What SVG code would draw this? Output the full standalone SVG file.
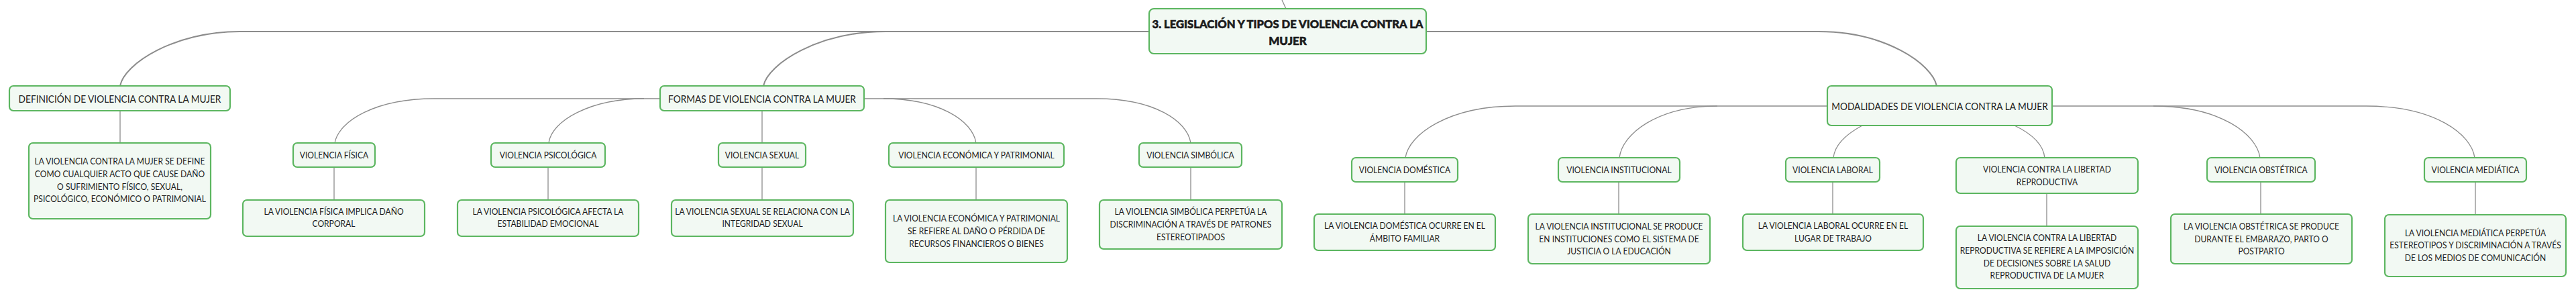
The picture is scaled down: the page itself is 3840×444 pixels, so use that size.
<svg xmlns="http://www.w3.org/2000/svg" width="3840" height="444" viewBox="0 0 3840 444">
<style>
.box{fill:#f2f9f3;stroke:#5cb660;stroke-width:2.2}
.t{font-family:Lato,"Liberation Sans",sans-serif;fill:#1c1c1c;text-anchor:middle;dominant-baseline:central}
.r{font-size:17px;font-weight:900;stroke:#1c1c1c;stroke-width:0.6}
.l1{font-size:15px}
.l2{font-size:13px}
.c{fill:none;stroke:#8c8c8c;stroke-width:1.3}
.cm{fill:none;stroke:#8c8c8c;stroke-width:2}
</style>
<rect width="3840" height="444" fill="#ffffff"/>
<g id="connectors">
<path class="c" d="M1911,0 L1917,13"/>
<path class="cm" d="M1713,47 H357 C260,47 185,95 179,128"/>
<path class="cm" d="M1320,47 C1220,47 1145,95 1138,128"/>
<path class="cm" d="M2126,47 H2711 C2810,47 2880,95 2887,128"/>
<path class="c" d="M984,147 H647 C560,147 505,180 499,213"/>
<path class="c" d="M960,147 C880,147 822,180 818,213"/>
<path class="c" d="M1136,165 V213"/>
<path class="c" d="M1288,147 H1635 C1720,147 1770,180 1775,213"/>
<path class="c" d="M1317,147 C1400,147 1450,180 1455,213"/>
<path class="c" d="M179,165 V213"/>
<path class="c" d="M498,249 V298"/>
<path class="c" d="M817,249 V298"/>
<path class="c" d="M1136,249 V298"/>
<path class="c" d="M1455,249 V298"/>
<path class="c" d="M1775,249 V298"/>
<path class="c" d="M2724,158 H2259 C2160,158 2100,200 2095,235"/>
<path class="c" d="M2560,158 C2470,158 2418,200 2414,235"/>
<path class="c" d="M2776,187 C2752,200 2735,215 2733,235"/>
<path class="c" d="M3003,187 C3030,200 3046,215 3048,235"/>
<path class="c" d="M3059,158 H3527 C3630,158 3684,200 3689,235"/>
<path class="c" d="M3210,158 C3310,158 3364,200 3369,235"/>
<path class="c" d="M2094,271 V319"/>
<path class="c" d="M2413,271 V319"/>
<path class="c" d="M2732,271 V319"/>
<path class="c" d="M3051,288 V337"/>
<path class="c" d="M3370,271 V319"/>
<path class="c" d="M3690,271 V320"/>
</g>
<g id="root">
<rect class="box" x="1713" y="13" width="413" height="67" rx="7"/>
<text class="t r" x="1919.5" y="35" textLength="404" lengthAdjust="spacingAndGlyphs">3. LEGISLACIÓN Y TIPOS DE VIOLENCIA CONTRA LA</text>
<text class="t r" x="1919.5" y="60">MUJER</text>
</g>
<g id="definicion">
<rect class="box" x="14" y="128" width="329" height="37" rx="6"/>
<text class="t l1" transform="translate(178.5,147) scale(0.915,1)">DEFINICIÓN DE VIOLENCIA CONTRA LA MUJER</text>
</g>
<g id="definicion-texto">
<rect class="box" x="43" y="213" width="271" height="113" rx="6"/>
<text class="t l2" transform="translate(178.5,240.7) scale(0.93,1)">LA VIOLENCIA CONTRA LA MUJER SE DEFINE</text>
<text class="t l2" transform="translate(178.5,259.3) scale(0.93,1)">COMO CUALQUIER ACTO QUE CAUSE DAÑO</text>
<text class="t l2" transform="translate(178.5,278) scale(0.93,1)">O SUFRIMIENTO FÍSICO, SEXUAL,</text>
<text class="t l2" transform="translate(178.5,296.7) scale(0.93,1)">PSICOLÓGICO, ECONÓMICO O PATRIMONIAL</text>
</g>
<g id="formas">
<rect class="box" x="984" y="128" width="304" height="37" rx="6"/>
<text class="t l1" transform="translate(1136,147) scale(0.915,1)">FORMAS DE VIOLENCIA CONTRA LA MUJER</text>
</g>
<g id="fisica">
<rect class="box" x="437" y="213" width="122" height="36" rx="6"/>
<text class="t l2" transform="translate(498,231) scale(0.93,1)">VIOLENCIA FÍSICA</text>
</g>
<g id="fisica-texto">
<rect class="box" x="362" y="298" width="271" height="54" rx="6"/>
<text class="t l2" transform="translate(497.5,315) scale(0.93,1)">LA VIOLENCIA FÍSICA IMPLICA DAÑO</text>
<text class="t l2" transform="translate(497.5,333.7) scale(0.93,1)">CORPORAL</text>
</g>
<g id="psicologica">
<rect class="box" x="732" y="213" width="170" height="36" rx="6"/>
<text class="t l2" transform="translate(817,231) scale(0.93,1)">VIOLENCIA PSICOLÓGICA</text>
</g>
<g id="psicologica-texto">
<rect class="box" x="682" y="298" width="270" height="54" rx="6"/>
<text class="t l2" transform="translate(817,315) scale(0.93,1)">LA VIOLENCIA PSICOLÓGICA AFECTA LA</text>
<text class="t l2" transform="translate(817,333.7) scale(0.93,1)">ESTABILIDAD EMOCIONAL</text>
</g>
<g id="sexual">
<rect class="box" x="1071" y="213" width="130" height="36" rx="6"/>
<text class="t l2" transform="translate(1136,231) scale(0.93,1)">VIOLENCIA SEXUAL</text>
</g>
<g id="sexual-texto">
<rect class="box" x="1001" y="298" width="271" height="54" rx="6"/>
<text class="t l2" transform="translate(1136.5,315) scale(0.93,1)">LA VIOLENCIA SEXUAL SE RELACIONA CON LA</text>
<text class="t l2" transform="translate(1136.5,333.7) scale(0.93,1)">INTEGRIDAD SEXUAL</text>
</g>
<g id="economica">
<rect class="box" x="1325" y="213" width="261" height="36" rx="6"/>
<text class="t l2" transform="translate(1455.5,231) scale(0.93,1)">VIOLENCIA ECONÓMICA Y PATRIMONIAL</text>
</g>
<g id="economica-texto">
<rect class="box" x="1320" y="298" width="271" height="93" rx="6"/>
<text class="t l2" transform="translate(1455.5,325.7) scale(0.93,1)">LA VIOLENCIA ECONÓMICA Y PATRIMONIAL</text>
<text class="t l2" transform="translate(1455.5,344.3) scale(0.93,1)">SE REFIERE AL DAÑO O PÉRDIDA DE</text>
<text class="t l2" transform="translate(1455.5,363) scale(0.93,1)">RECURSOS FINANCIEROS O BIENES</text>
</g>
<g id="simbolica">
<rect class="box" x="1698" y="213" width="153" height="36" rx="6"/>
<text class="t l2" transform="translate(1774.5,231) scale(0.93,1)">VIOLENCIA SIMBÓLICA</text>
</g>
<g id="simbolica-texto">
<rect class="box" x="1639" y="298" width="272" height="73" rx="6"/>
<text class="t l2" transform="translate(1775,315.7) scale(0.93,1)">LA VIOLENCIA SIMBÓLICA PERPETÚA LA</text>
<text class="t l2" transform="translate(1775,334.3) scale(0.93,1)">DISCRIMINACIÓN A TRAVÉS DE PATRONES</text>
<text class="t l2" transform="translate(1775,353) scale(0.93,1)">ESTEREOTIPADOS</text>
</g>
<g id="modalidades">
<rect class="box" x="2724" y="128" width="335" height="59" rx="6"/>
<text class="t l1" transform="translate(2891.5,158) scale(0.915,1)">MODALIDADES DE VIOLENCIA CONTRA LA MUJER</text>
</g>
<g id="domestica">
<rect class="box" x="2015" y="235" width="158" height="36" rx="6"/>
<text class="t l2" transform="translate(2094,253) scale(0.93,1)">VIOLENCIA DOMÉSTICA</text>
</g>
<g id="domestica-texto">
<rect class="box" x="1959" y="319" width="270" height="54" rx="6"/>
<text class="t l2" transform="translate(2094,336.7) scale(0.93,1)">LA VIOLENCIA DOMÉSTICA OCURRE EN EL</text>
<text class="t l2" transform="translate(2094,355.3) scale(0.93,1)">ÁMBITO FAMILIAR</text>
</g>
<g id="institucional">
<rect class="box" x="2323" y="235" width="181" height="36" rx="6"/>
<text class="t l2" transform="translate(2413.5,253) scale(0.93,1)">VIOLENCIA INSTITUCIONAL</text>
</g>
<g id="institucional-texto">
<rect class="box" x="2278" y="319" width="271" height="74" rx="6"/>
<text class="t l2" transform="translate(2413.5,337.3) scale(0.93,1)">LA VIOLENCIA INSTITUCIONAL SE PRODUCE</text>
<text class="t l2" transform="translate(2413.5,356) scale(0.93,1)">EN INSTITUCIONES COMO EL SISTEMA DE</text>
<text class="t l2" transform="translate(2413.5,374.7) scale(0.93,1)">JUSTICIA O LA EDUCACIÓN</text>
</g>
<g id="laboral">
<rect class="box" x="2662" y="235" width="140" height="36" rx="6"/>
<text class="t l2" transform="translate(2732,253) scale(0.93,1)">VIOLENCIA LABORAL</text>
</g>
<g id="laboral-texto">
<rect class="box" x="2598" y="319" width="269" height="54" rx="6"/>
<text class="t l2" transform="translate(2732.5,336.7) scale(0.93,1)">LA VIOLENCIA LABORAL OCURRE EN EL</text>
<text class="t l2" transform="translate(2732.5,355.3) scale(0.93,1)">LUGAR DE TRABAJO</text>
</g>
<g id="reproductiva">
<rect class="box" x="2916" y="235" width="271" height="53" rx="6"/>
<text class="t l2" transform="translate(3051.5,252.3) scale(0.93,1)">VIOLENCIA CONTRA LA LIBERTAD</text>
<text class="t l2" transform="translate(3051.5,271) scale(0.93,1)">REPRODUCTIVA</text>
</g>
<g id="reproductiva-texto">
<rect class="box" x="2916" y="337" width="271" height="93" rx="6"/>
<text class="t l2" transform="translate(3051.5,354.7) scale(0.93,1)">LA VIOLENCIA CONTRA LA LIBERTAD</text>
<text class="t l2" transform="translate(3051.5,373.3) scale(0.93,1)">REPRODUCTIVA SE REFIERE A LA IMPOSICIÓN</text>
<text class="t l2" transform="translate(3051.5,392) scale(0.93,1)">DE DECISIONES SOBRE LA SALUD</text>
<text class="t l2" transform="translate(3051.5,410.7) scale(0.93,1)">REPRODUCTIVA DE LA MUJER</text>
</g>
<g id="obstetrica">
<rect class="box" x="3290" y="235" width="161" height="36" rx="6"/>
<text class="t l2" transform="translate(3370.5,253) scale(0.93,1)">VIOLENCIA OBSTÉTRICA</text>
</g>
<g id="obstetrica-texto">
<rect class="box" x="3236" y="319" width="270" height="74" rx="6"/>
<text class="t l2" transform="translate(3371,337.7) scale(0.93,1)">LA VIOLENCIA OBSTÉTRICA SE PRODUCE</text>
<text class="t l2" transform="translate(3371,356) scale(0.93,1)">DURANTE EL EMBARAZO, PARTO O</text>
<text class="t l2" transform="translate(3371,374.7) scale(0.93,1)">POSTPARTO</text>
</g>
<g id="mediatica">
<rect class="box" x="3614" y="235" width="152" height="36" rx="6"/>
<text class="t l2" transform="translate(3690,253) scale(0.93,1)">VIOLENCIA MEDIÁTICA</text>
</g>
<g id="mediatica-texto">
<rect class="box" x="3555" y="320" width="270" height="92" rx="6"/>
<text class="t l2" transform="translate(3690,347) scale(0.93,1)">LA VIOLENCIA MEDIÁTICA PERPETÚA</text>
<text class="t l2" transform="translate(3690,365.7) scale(0.93,1)">ESTEREOTIPOS Y DISCRIMINACIÓN A TRAVÉS</text>
<text class="t l2" transform="translate(3690,384.3) scale(0.93,1)">DE LOS MEDIOS DE COMUNICACIÓN</text>
</g>
</svg>
